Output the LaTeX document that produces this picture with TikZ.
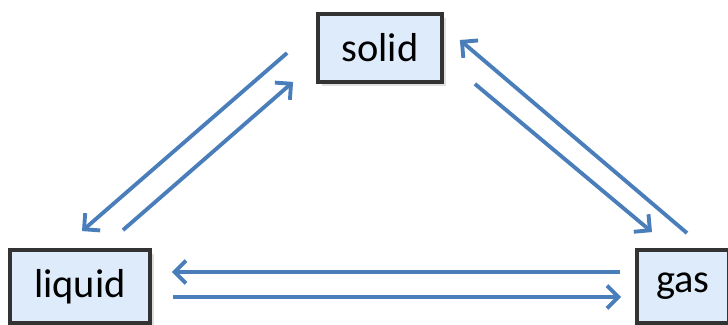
\documentclass[tikz,border=0pt]{standalone}
\usepackage{fontspec}
\setmainfont{Carlito}
\usepackage{xcolor}
\usepackage{tikz}
\usetikzlibrary{arrows.meta,shadows}

\definecolor{arrowblue}{RGB}{74,126,187}
\definecolor{boxblue}{RGB}{222,235,250}

\tikzset{
  phase/.style={draw=black!80, line width=2.2pt, fill=boxblue, inner sep=0pt,
    font=\fontsize{23}{27}\selectfont,
    drop shadow={opacity=0.25, shadow xshift=2pt, shadow yshift=-2pt}},
  change/.style={draw=arrowblue, line width=2.2pt,
    -{Straight Barb[length=6.5pt,width=13pt]}}
}

\begin{document}
\begin{tikzpicture}[x=0.02cm,y=0.02cm]
\useasboundingbox (0,0) rectangle (728,325);
\fill[white] (0,0) rectangle (728,325);
\node[phase, minimum width=2.48cm, minimum height=1.36cm] (solid) at (380,277) {solid};
\node[phase, minimum width=2.8cm, minimum height=1.46cm] (liquid) at (80,38.5) {liquid};
\node[phase, minimum width=1.84cm, minimum height=1.46cm] (gas) at (683,38.5) {gas};
% solid <-> liquid
\draw[change] ([shift={(-29,-5)}]solid.west) -- ([shift={(2,17)}]liquid.north);
\draw[change] ([shift={(43,18)}]liquid.north) -- ([shift={(-23,2)}]solid.south west);
% solid <-> gas
\draw[change] ([shift={(4,15)}]gas.north) -- ([shift={(16,8)}]solid.east);
\draw[change] ([shift={(31,0)}]solid.south east) -- ([shift={(-31,16)}]gas.north);
% liquid <-> gas
\draw[change] ([shift={(-15,14.5)}]gas.west) -- ([shift={(20,14.5)}]liquid.east);
\draw[change] ([shift={(21,-10.5)}]liquid.east) -- ([shift={(-14,-10.5)}]gas.west);
\end{tikzpicture}
\end{document}
